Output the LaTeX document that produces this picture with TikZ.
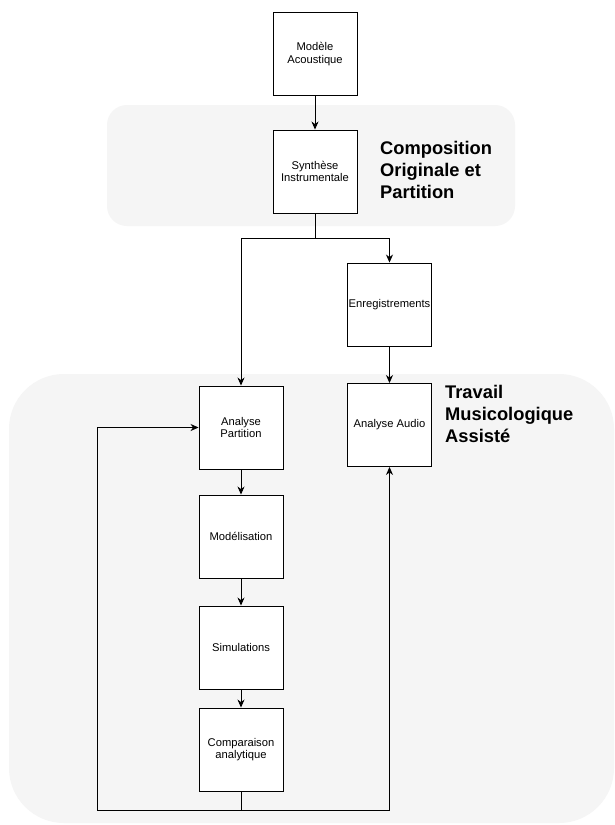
\documentclass[tikz,border=0pt]{standalone}
\usepackage{fontspec}
\setmainfont{Liberation Sans}
\usetikzlibrary{arrows.meta}
\definecolor{regionfill}{HTML}{F5F5F5}
\begin{document}
\begin{tikzpicture}[x=1pt,y=-1pt,
  box/.style={draw=black,line width=0.9pt,fill=white,minimum width=84pt,minimum height=83pt,inner sep=0pt,align=center,font=\fontsize{11.2}{12.5}\selectfont},
  region/.style={fill=regionfill,draw=none},
  heading/.style={anchor=west,align=left,font=\fontsize{18.3}{22.3}\selectfont\bfseries,inner sep=0pt},
  conn/.style={line width=0.9pt,draw=black},
  arr/.style={conn,-{Stealth[length=8pt,width=7pt,inset=2.5pt]}}]
\useasboundingbox (0,0) rectangle (615,825);
\fill[white] (0,0) rectangle (615,825);
% regions
\path[region,rounded corners=20pt] (107,105) rectangle (515,226);
\path[region,rounded corners=55pt] (9,374) rectangle (614,823);
% headings
\node[heading] (h1) at (380,170) {Composition\\Originale et\\Partition};
\node[heading] (h2) at (445,414) {Travail\\Musicologique\\Assisté};
% boxes
\node[box] (mod) at (315,54) {Modèle\\Acoustique};
\node[box] (syn) at (315,171.5) {Synthèse\\Instrumentale};
\node[box] (enr) at (389.5,304.5) {Enregistrements};
\node[box] (ap) at (241,427.5) {Analyse\\Partition};
\node[box] (aa) at (389.5,425) {Analyse Audio};
\node[box] (modl) at (241,536.5) {Modélisation};
\node[box] (sim) at (241,647.5) {Simulations};
\node[box] (comp) at (241,749.5) {Comparaison\\analytique};
% connectors
\coordinate (br) at (315,238);
\coordinate (bt) at (241,810);
\coordinate (lc) at (97,810);
\draw[arr] (mod) -- (syn);
\draw[conn] (syn.south) -- (br);
\draw[arr] (br) -| (ap.north);
\draw[arr] (br) -| (enr.north);
\draw[arr] (enr) -- (aa);
\draw[arr] (ap) -- (modl);
\draw[arr] (modl) -- (sim);
\draw[arr] (sim) -- (comp);
\draw[conn] (comp.south) -- (bt);
\draw[arr] (bt) -- (lc) |- (ap.west);
\draw[arr] (bt) -| (aa.south);
\end{tikzpicture}
\end{document}
